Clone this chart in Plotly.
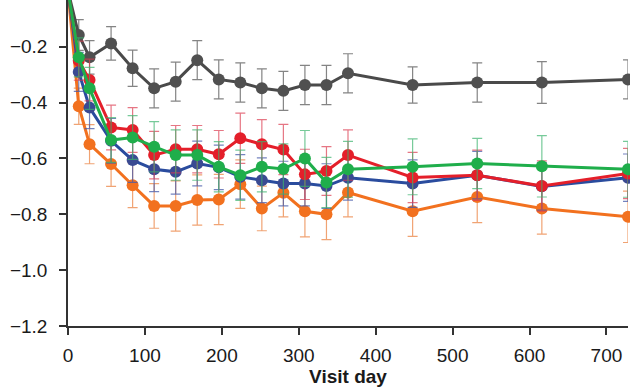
import plotly.graph_objects as go

days = [0, 14, 28, 56, 84, 112, 140, 168, 196, 224, 252, 280, 308, 336, 364, 448, 532, 616, 728]

gray = [0, -0.158, -0.238, -0.188, -0.277, -0.349, -0.325, -0.248, -0.317, -0.328, -0.349, -0.358, -0.337, -0.337, -0.295, -0.337, -0.328, -0.328, -0.317]
gray_err = [0, 0.055, 0.06, 0.06, 0.065, 0.07, 0.07, 0.07, 0.07, 0.07, 0.07, 0.07, 0.07, 0.07, 0.07, 0.065, 0.07, 0.075, 0.07]

orange = [0, -0.413, -0.549, -0.620, -0.696, -0.770, -0.770, -0.749, -0.747, -0.692, -0.779, -0.723, -0.789, -0.800, -0.722, -0.789, -0.738, -0.779, -0.809]
orange_err = [0, 0.065, 0.07, 0.08, 0.08, 0.08, 0.09, 0.09, 0.09, 0.087, 0.08, 0.086, 0.092, 0.091, 0.087, 0.09, 0.092, 0.092, 0.092]

blue = [0, -0.29, -0.418, -0.537, -0.606, -0.639, -0.648, -0.618, -0.632, -0.666, -0.678, -0.690, -0.690, -0.699, -0.669, -0.690, -0.660, -0.700, -0.669]
blue_err = [0, 0.07, 0.075, 0.08, 0.08, 0.08, 0.08, 0.08, 0.08, 0.08, 0.08, 0.08, 0.08, 0.08, 0.08, 0.085, 0.085, 0.085, 0.085]

red = [0, -0.25, -0.319, -0.489, -0.498, -0.588, -0.567, -0.567, -0.585, -0.528, -0.549, -0.568, -0.657, -0.645, -0.588, -0.668, -0.660, -0.699, -0.654]
red_err = [0, 0.07, 0.075, 0.08, 0.08, 0.085, 0.085, 0.085, 0.085, 0.09, 0.088, 0.09, 0.09, 0.087, 0.09, 0.09, 0.09, 0.09, 0.09]

green = [0, -0.238, -0.349, -0.534, -0.525, -0.558, -0.588, -0.588, -0.630, -0.660, -0.630, -0.638, -0.600, -0.686, -0.639, -0.630, -0.618, -0.628, -0.639]
green_err = [0, 0.07, 0.075, 0.08, 0.078, 0.09, 0.09, 0.09, 0.09, 0.09, 0.09, 0.09, 0.10, 0.09, 0.10, 0.10, 0.09, 0.11, 0.10]

series = [
    ("gray", gray, gray_err, "#4a4a4a", "#505050", "rgba(110,110,110,0.85)"),
    ("orange", orange, orange_err, "#f2711f", "#f2711f", "rgba(236,140,80,0.8)"),
    ("blue", blue, blue_err, "#2a4c9e", "#3a4a92", "rgba(70,90,170,0.75)"),
    ("red", red, red_err, "#e41f2a", "#e41f2a", "rgba(220,60,80,0.7)"),
    ("green", green, green_err, "#1fae4b", "#1fae4b", "rgba(60,180,110,0.7)"),
]

fig = go.Figure()
for name, vals, errs, lc, mc, ec in series:
    fig.add_trace(go.Scatter(
        x=days, y=vals, name=name, mode="lines+markers",
        line=dict(color=lc, width=3),
        marker=dict(color=mc, size=12),
        error_y=dict(type="data", array=errs, visible=True, color=ec, thickness=1.2, width=5),
        cliponaxis=False,
    ))

fig.update_layout(
    width=630, height=387,
    margin=dict(l=68, r=2, t=0, b=61),
    paper_bgcolor="white", plot_bgcolor="white",
    showlegend=False,
    font=dict(family="Liberation Sans, Arial, sans-serif", size=19, color="#1a1a1a"),
)
fig.update_xaxes(
    range=[0, 728], tickvals=[0, 100, 200, 300, 400, 500, 600, 700],
    showgrid=False, zeroline=False, automargin=False,
    showline=True, linecolor="#333333", linewidth=1.5,
    ticks="outside", ticklen=7, tickcolor="#333333", tickwidth=1.5,
    ticklabelstandoff=4,
    title=dict(text="<b>Visit day</b>", font=dict(size=19), standoff=2),
)
fig.update_yaxes(
    range=[-1.2, -0.0326], tickvals=[-1.2, -1.0, -0.8, -0.6, -0.4, -0.2],
    ticktext=["\u22121.2", "\u22121.0", "\u22120.8", "\u22120.6", "\u22120.4", "\u22120.2"],
    showgrid=False, zeroline=False, automargin=False,
    showline=True, linecolor="#333333", linewidth=1.5,
    ticks="outside", ticklen=7, tickcolor="#333333", tickwidth=1.5,
    ticklabelstandoff=8,
)

fig.write_html("out.html", config={"displayModeBar": False},
               post_script="document.body.style.margin='0';document.body.style.padding='0';")
